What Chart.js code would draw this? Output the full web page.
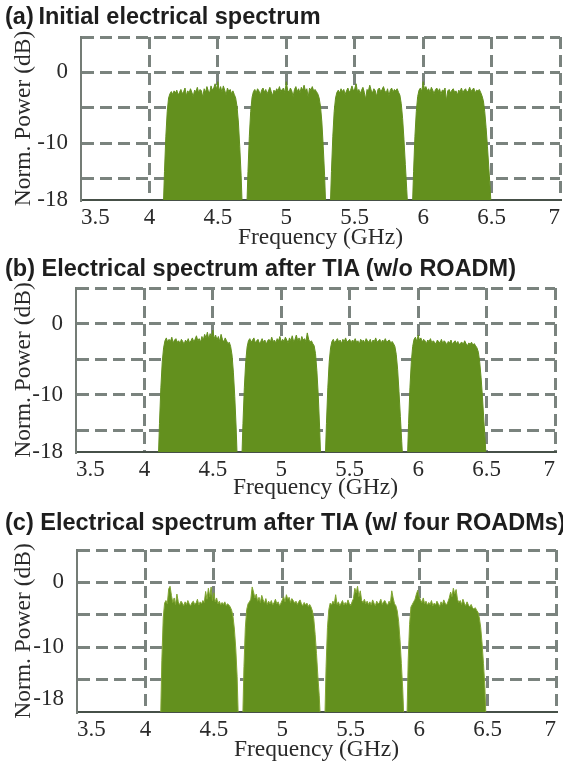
<!DOCTYPE html>
<html>
<head>
<meta charset="utf-8">
<script src="https://cdn.jsdelivr.net/npm/chart.js@4.4.1/dist/chart.umd.min.js"></script>
<style>
  body { margin: 0; background: #fff; width: 563px; height: 762px; position: relative; overflow: hidden; }
  canvas { position: absolute; left: 0; }
  .title { position: absolute; left: 5px; font: bold 23.5px 'Liberation Sans', Arial, sans-serif; color: #1e1e1e; white-space: nowrap; }
</style>
</head>
<body>
<canvas id="specA" width="563" height="250" style="top:0px"></canvas>
<canvas id="specB" width="563" height="250" style="top:250px"></canvas>
<canvas id="specC" width="563" height="262" style="top:500px"></canvas>
<div class="title" style="top:3px">(a)&thinsp;Initial electrical spectrum</div>
<div class="title" style="top:255px">(b) Electrical spectrum after TIA (w/o ROADM)</div>
<div class="title" style="top:509px">(c) Electrical spectrum after TIA (w/ four ROADMs)</div>
<script>
// axis ticks
const freqTicks = [3.5, 4, 4.5, 5, 5.5, 6, 6.5, 7];
const powerTicks = [-18, -15, -10, -5, 0, 5];
const powerLabels = [0, -10, -18];

// each band is sampled every 10 MHz from its start frequency (GHz)
const freqStep = 0.01;
const bandStartsA = [4.10, 4.71, 5.32, 5.92];
const bandStartsB = [4.10, 4.71, 5.32, 5.92];
const bandStartsC = [4.11, 4.71, 5.31, 5.91];

// (a) initial electrical spectrum, normalised power in dB
const powerA1 = [-20, -14, -9, -5.5, -3.6, -3.0, -2.7, -3.1, -2.6, -2.9, -2.5, -3.2, -2.8, -2.4, -3.0, -2.7, -2.2, -3.3, -2.6, -2.9,
  -2.3, -2.8, -3.4, -2.5, -2.7, -2.1, -2.9, -2.4, -2.6, -3.5, -2.3, -2.8, -2.0, -2.6, -2.9, -1.9, -2.5, -2.2, -1.6, -2.4,
  -1.3, -2.6, -2.0, -2.8, -1.9, -2.5, -3.2, -2.2, -2.7, -2.4, -3.0, -2.6, -3.1, -3.6, -4.8, -7.0, -10.5, -14.5, -20];
const powerA2 = [-20, -14, -9, -5.5, -3.5, -2.7, -2.4, -2.9, -2.3, -2.6, -3.2, -2.5, -2.2, -2.8, -2.4, -3.0, -2.6, -2.1, -2.7, -3.3,
  -2.5, -2.8, -2.3, -2.6, -2.0, -2.7, -2.4, -2.2, -2.9, -1.3, -2.5, -2.8, -2.2, -2.6, -3.4, -2.4, -2.0, -2.7, -2.3, -2.9,
  -2.1, -2.5, -1.8, -2.6, -2.3, -3.5, -2.2, -2.5, -2.0, -2.6, -2.4, -2.7, -3.0, -3.6, -4.8, -7.0, -10.5, -14.5, -20];
const powerA3 = [-20, -14, -9, -5.5, -3.6, -2.8, -2.5, -2.9, -2.3, -2.7, -2.4, -3.1, -2.6, -2.2, -2.8, -2.5, -1.9, -2.6, -2.3, -1.6,
  -2.7, -2.4, -3.0, -2.5, -2.1, -2.8, -3.8, -2.4, -2.6, -1.8, -2.5, -2.9, -2.3, -2.6, -3.4, -2.4, -2.2, -2.7, -2.4, -2.0,
  -2.6, -2.9, -2.3, -3.3, -2.5, -2.2, -2.8, -2.4, -2.6, -2.3, -2.8, -3.2, -4.4, -6.5, -9.5, -13, -16.5, -20];
const powerA4 = [-20, -14, -9, -5.5, -3.4, -2.5, -2.2, -2.7, -1.3, -2.4, -2.0, -2.6, -2.3, -2.8, -2.1, -2.5, -3.0, -2.4, -2.2, -2.7,
  -2.3, -3.1, -2.5, -2.6, -2.2, -4.0, -2.6, -2.4, -2.9, -2.5, -2.3, -2.8, -2.6, -3.2, -2.5, -2.7, -2.2, -2.9, -2.5, -2.3,
  -2.8, -2.6, -2.1, -2.7, -2.4, -2.2, -2.9, -2.5, -2.6, -2.4, -2.8, -3.3, -4.0, -5.5, -7.8, -10.5, -13.5, -16.5, -20];

// (b) after TIA, no ROADM
const powerB1 = [-20, -14, -9, -5.4, -3.4, -2.4, -2.0, -2.6, -2.2, -2.5, -1.9, -2.7, -2.3, -2.1, -2.6, -2.4, -2.8, -2.2, -2.5, -2.9,
  -2.3, -2.6, -2.1, -2.7, -2.4, -2.0, -2.5, -2.2, -1.7, -2.4, -2.1, -2.6, -1.8, -2.3, -1.5, -2.0, -1.2, -2.2, -1.4, -1.9,
  -0.9, -2.1, -1.6, -2.3, -1.8, -2.5, -1.5, -2.2, -2.6, -2.0, -2.4, -2.8, -2.6, -3.2, -4.4, -6.8, -10.2, -14.5, -20];
const powerB2 = [-20, -14, -9, -5.4, -3.3, -2.4, -2.1, -2.6, -2.3, -2.0, -2.7, -2.4, -2.2, -2.8, -2.5, -2.1, -2.6, -2.3, -2.9, -2.4,
  -2.2, -2.6, -1.9, -2.5, -2.3, -2.7, -2.1, -2.4, -1.8, -2.6, -2.2, -2.5, -1.9, -2.3, -2.7, -2.0, -2.4, -1.7, -2.5, -2.2,
  -1.6, -2.4, -2.0, -2.6, -1.8, -2.3, -2.1, -2.5, -1.3, -2.2, -2.6, -2.4, -2.8, -3.1, -4.2, -6.6, -10, -14.5, -20];
const powerB3 = [-20, -14, -9, -5.4, -3.4, -2.5, -2.2, -2.7, -2.4, -2.1, -2.6, -2.3, -2.8, -2.2, -2.5, -2.0, -2.6, -2.4, -2.2, -2.7,
  -2.3, -2.5, -2.1, -2.6, -2.4, -2.9, -2.2, -2.5, -2.3, -2.7, -2.1, -2.4, -2.6, -2.2, -2.8, -2.3, -2.5, -2.0, -2.6, -2.4,
  -2.2, -2.7, -2.3, -2.5, -2.1, -2.6, -2.4, -2.3, -2.7, -2.5, -2.8, -3.2, -4.3, -6.4, -9.5, -13, -16.5, -20];
const powerB4 = [-20, -14, -9, -5.4, -3.2, -2.2, -1.9, -2.5, -1.6, -2.3, -2.0, -2.6, -2.2, -2.4, -2.8, -2.3, -2.5, -2.1, -2.7, -2.4,
  -2.6, -2.9, -2.3, -2.5, -2.7, -2.2, -2.8, -2.4, -2.6, -3.0, -2.5, -2.7, -2.3, -2.9, -2.6, -2.4, -2.8, -2.5, -3.0, -2.7,
  -2.6, -2.9, -2.4, -2.8, -3.1, -2.7, -2.9, -2.6, -3.0, -2.8, -3.1, -3.4, -4.0, -5.4, -7.6, -10.3, -13.5, -16.5, -20];

// (c) after TIA, four ROADMs
const powerC1 = [-22, -12, -5.5, -3.2, -2.8, -3.3, -1.0, -0.6, -2.0, -3.1, -2.4, -3.4, -1.8, -3.0, -3.5, -2.9, -3.2, -3.6, -3.0, -3.4,
  -2.8, -3.3, -3.6, -3.1, -2.9, -3.4, -3.2, -2.6, -3.5, -3.0, -3.3, -2.8, -3.1, -1.4, -2.6, -0.9, -2.2, -0.7, -2.8, -1.6,
  -3.0, -2.4, -3.3, -2.9, -3.5, -3.1, -3.4, -3.0, -3.6, -3.3, -3.5, -3.8, -4.3, -5.3, -7.2, -10.2, -14.5, -22];
const powerC2 = [-22, -13, -7, -4.2, -3.3, -3.0, -2.6, -0.7, -1.5, -2.4, -1.8, -2.9, -2.3, -3.1, -2.0, -2.7, -3.2, -2.5, -3.4, -2.9,
  -3.3, -2.8, -3.5, -3.1, -2.6, -3.3, -3.0, -3.6, -3.2, -2.7, -2.2, -3.0, -1.9, -2.6, -2.3, -3.1, -2.5, -2.8, -3.2, -2.9,
  -3.4, -3.0, -2.7, -3.3, -3.6, -3.1, -3.5, -3.2, -3.7, -3.4, -3.8, -4.4, -5.6, -8.0, -11, -14.5, -17.5, -22];
const powerC3 = [-22, -13, -7, -4.2, -3.2, -3.5, -2.9, -3.3, -1.9, -3.4, -3.0, -3.6, -3.2, -2.8, -3.5, -3.1, -3.4, -2.7, -3.3, -3.6,
  -3.0, -2.5, -0.9, -1.6, -0.6, -2.2, -1.3, -2.8, -3.1, -2.6, -3.3, -2.9, -3.4, -3.0, -3.5, -2.7, -3.2, -3.6, -2.9, -3.3,
  -3.1, -2.6, -3.4, -3.0, -2.8, -3.3, -3.5, -2.9, -3.2, -1.3, -2.4, -3.3, -3.6, -4.4, -6.0, -8.8, -12.5, -16.5, -22];
const powerC4 = [-22, -12, -6.5, -3.8, -3.4, -3.0, -2.6, -1.8, -1.2, -2.2, -2.7, -3.1, -2.4, -3.3, -2.9, -3.5, -3.1, -3.4, -2.8, -3.6,
  -3.2, -3.5, -2.9, -3.3, -3.7, -3.0, -3.4, -2.7, -3.2, -3.5, -3.0, -2.4, -1.5, -2.2, -0.9, -1.8, -1.1, -2.6, -3.1, -2.8,
  -3.4, -2.6, -3.2, -3.6, -3.0, -3.5, -3.8, -3.4, -3.9, -4.1, -3.9, -4.3, -4.6, -5.5, -7.0, -9.5, -12.5, -16, -22];

const green = 'rgb(99, 144, 30)';
const gridColor = '#7a837e';
const textColor = '#2a2a2a';
const serif = "'Liberation Serif', 'Times New Roman', serif";

function bandPoints(start, values) {
  return values.map((v, i) => ({ x: +(start + i * freqStep).toFixed(2), y: v }));
}

function drawSpectrum(id, starts, bands, opt) {
  const datasets = bands.map((vals, i) => ({
    data: bandPoints(starts[i], vals),
    borderColor: opt.edge || green,
    borderWidth: 1,
    backgroundColor: green,
    fill: 'start',
    pointRadius: 0,
    tension: 0,
    clip: 0
  }));

  new Chart(document.getElementById(id), {
    type: 'line',
    data: { datasets },
    options: {
      responsive: false,
      animation: false,
      events: [],
      layout: { padding: { top: opt.top, right: opt.right, left: 0, bottom: 0 } },
      plugins: { legend: { display: false }, tooltip: { enabled: false } },
      scales: {
        x: {
          type: 'linear',
          min: 3.5,
          max: 7,
          afterBuildTicks: s => { s.ticks = freqTicks.map(v => ({ value: v })); },
          afterFit: s => { s.height = opt.bottom; s.paddingLeft = 0; s.paddingRight = 0; },
          ticks: {
            color: textColor,
            font: { family: serif, size: 23 },
            padding: 4,
            align: 'inner',
            maxRotation: 0,
            autoSkip: false,
            callback: v => String(v)
          },
          grid: {
            color: c => (c.tick && c.tick.value === 3.5) ? 'rgba(0,0,0,0)' : gridColor,
            lineWidth: 3,
            drawTicks: false
          },
          border: { color: '#465048', width: 2, dash: [12, 6] },
          title: {
            display: true,
            text: 'Frequency (GHz)',
            color: textColor,
            font: { family: serif, size: 23.5 },
            padding: { top: 0, bottom: -2 }
          }
        },
        y: {
          min: opt.ymin,
          max: 5,
          afterBuildTicks: s => { s.ticks = powerTicks.map(v => ({ value: v })); },
          afterFit: s => { s.width = opt.left; s.paddingTop = 0; s.paddingBottom = 0; },
          ticks: {
            color: textColor,
            font: { family: serif, size: 23 },
            padding: 13,
            autoSkip: false,
            callback: v => powerLabels.includes(v) ? String(v) : ''
          },
          grid: {
            color: c => (c.tick && c.tick.value === -18) ? 'rgba(0,0,0,0)' : gridColor,
            lineWidth: 3,
            drawTicks: false
          },
          border: { color: '#747c76', width: 2, dash: [12, 6] },
          title: {
            display: true,
            text: 'Norm. Power (dB)',
            color: textColor,
            font: { family: serif, size: 23.5 },
            padding: { top: 10, bottom: 0 }
          }
        }
      }
    }
  });
}

drawSpectrum('specA', bandStartsA, [powerA1, powerA2, powerA3, powerA4],
  { top: 37, bottom: 50, left: 81, right: 3, ymin: -18 });
drawSpectrum('specB', bandStartsB, [powerB1, powerB2, powerB3, powerB4],
  { top: 38, bottom: 48, left: 76, right: 8, ymin: -18 });
drawSpectrum('specC', bandStartsC, [powerC1, powerC2, powerC3, powerC4],
  { top: 50, bottom: 50, left: 77, right: 7, ymin: -20, edge: 'rgb(128, 165, 50)' });
</script>
</body>
</html>
